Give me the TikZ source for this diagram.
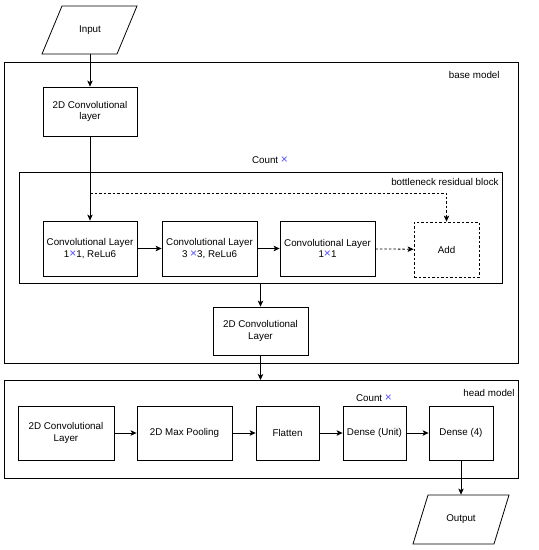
\documentclass[tikz,border=0pt]{standalone}
\usepackage{fontspec}
\setmainfont{Liberation Sans}
\usetikzlibrary{arrows.meta}
\definecolor{xblue}{RGB}{80,80,255}
\newcommand{\tms}{{\color{xblue}\fontsize{12}{11.5}\selectfont ×}}
\begin{document}
\begin{tikzpicture}[x=1pt,y=-1pt,
  font=\fontsize{9.8}{11.5}\selectfont,
  line width=0.8pt,
  box/.style={draw, align=center, inner sep=1pt},
  ghost/.style={draw=none, align=center, inner sep=1pt},
  arr/.style={-{Stealth[length=6pt,width=5.5pt,inset=1.5pt]}},
  dsh/.style={dash pattern=on 2.5pt off 2pt},
  frame/.style={draw, line width=0.8pt}]
\useasboundingbox (0,0) rectangle (539,550);
% Input
\draw (42,54) -- (117,54) -- (137,6) -- (62,6) -- cycle;
\node[ghost, minimum width=95pt, minimum height=48pt] (in) at (90,30) {Input};
% base model frame
\draw[frame] (4,62) rectangle (518,363);
\node[anchor=east, inner sep=0pt] (baselbl) at (500,75) {base model};
\node[box, minimum width=94pt, minimum height=49pt] (conv0) at (90,111.5) {2D Convolutional\\layer};
\node[inner sep=0pt] (cnt1) at (270,160) {Count \tms};
% bottleneck block frame
\draw[frame] (19,172) rectangle (502,283);
\node[anchor=east, inner sep=0pt] (blklbl) at (499,182) {bottleneck residual block};
\node[box, minimum width=94pt, minimum height=55pt] (b1) at (90,248.5) {Convolutional Layer\\1\tms1, ReLu6};
\node[box, minimum width=95pt, minimum height=55pt] (b2) at (209.5,248.5) {Convolutional Layer\\3 \tms3, ReLu6};
\node[box, minimum width=95pt, minimum height=55pt] (b3) at (327.5,248.5) {Convolutional Layer\\1\tms1};
\node[box, dsh, minimum width=65pt, minimum height=55pt] (add) at (446.5,249.5) {Add};
\coordinate (split) at (90,193);
\coordinate (blkbot) at (260.5,283);
\node[box, minimum width=95pt, minimum height=48pt] (conv1) at (260.5,331) {2D Convolutional\\Layer};
% head model frame
\draw[frame] (4,380) rectangle (518,478);
\coordinate (headtop) at (260.5,380);
\node[anchor=east, inner sep=0pt] (headlbl) at (515,393) {head model};
\node[box, minimum width=96pt, minimum height=54pt] (h1) at (66,433) {2D Convolutional\\Layer};
\node[box, minimum width=95pt, minimum height=54pt] (h2) at (184.5,433) {2D Max Pooling};
\node[box, minimum width=63pt, minimum height=54pt] (h3) at (287.5,433) {Flatten};
\node[box, minimum width=63pt, minimum height=54pt] (h4) at (374.5,433) {Dense (Unit)};
\node[box, minimum width=64pt, minimum height=54pt] (h5) at (461,433) {Dense (4)};
\node[inner sep=0pt] (cnt2) at (374,398) {Count \tms};
% Output
\draw (413,544) -- (494,544) -- (509,495) -- (428,495) -- cycle;
\node[ghost, minimum width=96pt, minimum height=49pt] (out) at (461,519.5) {Output};
% connectors
\draw[arr] (in.south) -- (conv0.north);
\draw[arr] (conv0.south) -- (b1.north);
\draw[arr, dsh] (split) -- (split -| add.north) -- (add.north);
\draw[arr] (b1) -- (b2);
\draw[arr] (b2) -- (b3);
\draw[arr, dsh] (b3) -- (add);
\draw[arr] (blkbot) -- (conv1.north);
\draw[arr] (conv1.south) -- (headtop);
\draw[arr] (h1) -- (h2);
\draw[arr] (h2) -- (h3);
\draw[arr] (h3) -- (h4);
\draw[arr] (h4) -- (h5);
\draw[arr] (h5.south) -- (out.north);
\end{tikzpicture}
\end{document}
